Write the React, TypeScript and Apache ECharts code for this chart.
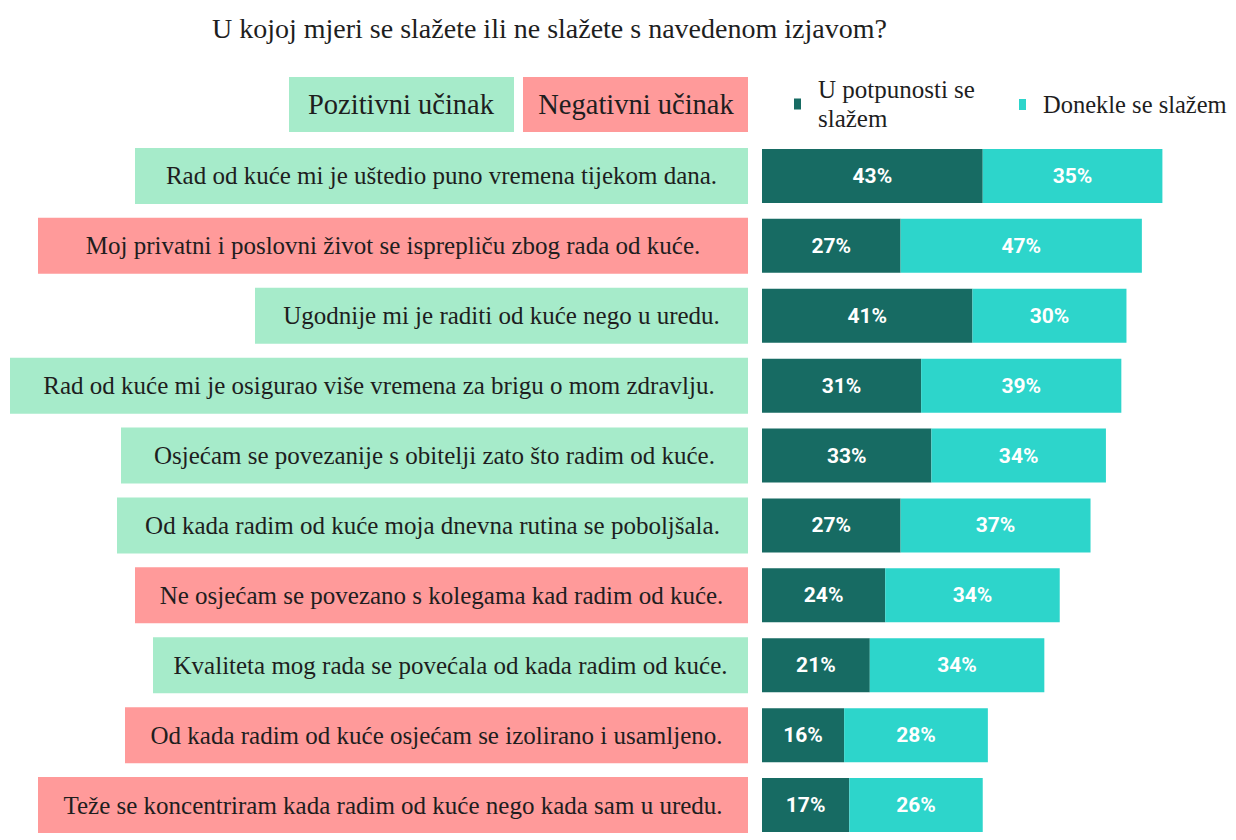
import React, { useEffect, useRef } from "react";
import * as echarts from "echarts";

const titleText = "U kojoj mjeri se slažete ili ne slažete s navedenom izjavom?";

const categories = [
  "Rad od kuće mi je uštedio puno vremena tijekom dana.",
  "Moj privatni i poslovni život se isprepliču zbog rada od kuće.",
  "Ugodnije mi je raditi od kuće nego u uredu.",
  "Rad od kuće mi je osigurao više vremena za brigu o mom zdravlju.",
  "Osjećam se povezanije s obitelji zato što radim od kuće.",
  "Od kada radim od kuće moja dnevna rutina se poboljšala.",
  "Ne osjećam se povezano s kolegama kad radim od kuće.",
  "Kvaliteta mog rada se povećala od kada radim od kuće.",
  "Od kada radim od kuće osjećam se izolirano i usamljeno.",
  "Teže se koncentriram kada radim od kuće nego kada sam u uredu.",
];

const fullyAgree = [43, 27, 41, 31, 33, 27, 24, 21, 16, 17];
const somewhatAgree = [35, 47, 30, 39, 34, 37, 34, 34, 28, 26];
const impactType = ["pos", "neg", "pos", "pos", "pos", "pos", "neg", "pos", "neg", "neg"];

const seriesNames = ["U potpunosti se slažem", "Donekle se slažem"];
const impactLabels = ["Pozitivni učinak", "Negativni učinak"];

// layout (not data)
const labelBoxWidths = [613, 710, 493, 738, 627, 631, 613, 595, 623, 710];
const COLORS = {
  pos: "#A6EBCA",
  neg: "#FF9A9A",
  dark: "#176B63",
  teal: "#2DD5CB",
  text: "#1e1e1e",
};
const SERIF = "'Liberation Serif', 'Times New Roman', serif";
const NARROW = "Roboto, 'Liberation Sans Narrow', sans-serif";

export default function App() {
  const ref = useRef<HTMLDivElement>(null);

  useEffect(() => {
    if (!ref.current) return;
    const chart = echarts.init(ref.current, null, { renderer: "svg" });

    const rich: Record<string, any> = {};
    categories.forEach((_, i) => {
      rich["b" + i] = {
        width: labelBoxWidths[i],
        height: 56,
        lineHeight: 56,
        align: "center",
        backgroundColor: impactType[i] === "pos" ? COLORS.pos : COLORS.neg,
        fontSize: 25,
        fontFamily: SERIF,
        color: COLORS.text,
      };
    });

    const barLabel = {
      show: true,
      position: "inside",
      color: "#ffffff",
      fontWeight: "bold",
      fontSize: 21,
      fontFamily: NARROW,
      formatter: "{c}%",
    };

    chart.setOption({
      animation: false,
      backgroundColor: "#ffffff",
      title: {
        text: titleText,
        left: 207,
        top: 9,
        textStyle: {
          fontFamily: SERIF,
          fontSize: 28,
          fontWeight: "normal",
          color: COLORS.text,
        },
      },
      legend: [
        {
          data: [seriesNames[0]],
          left: 789,
          top: 70,
          icon: "rect",
          itemWidth: 7,
          itemHeight: 11,
          formatter: () => "U potpunosti se\nslažem",
          textStyle: {
            fontFamily: SERIF,
            fontSize: 25,
            lineHeight: 29,
            color: COLORS.text,
            padding: [0, 0, 0, 12],
          },
        },
        {
          data: [seriesNames[1]],
          left: 1014,
          top: 85,
          icon: "rect",
          itemWidth: 7,
          itemHeight: 11,
          textStyle: {
            fontFamily: SERIF,
            fontSize: 24.5,
            lineHeight: 29,
            color: COLORS.text,
            padding: [0, 0, 0, 12],
          },
        },
      ],
      graphic: [
        {
          type: "group",
          children: [
            {
              type: "rect",
              shape: { x: 289, y: 77, width: 225, height: 55 },
              style: { fill: COLORS.pos },
            },
            {
              type: "text",
              x: 401,
              y: 104,
              style: {
                text: impactLabels[0],
                fontFamily: SERIF,
                fontSize: 28.5,
                fill: COLORS.text,
                textAlign: "center",
                textVerticalAlign: "middle",
              },
            },
            {
              type: "rect",
              shape: { x: 523, y: 77, width: 225, height: 55 },
              style: { fill: COLORS.neg },
            },
            {
              type: "text",
              x: 636,
              y: 104,
              style: {
                text: impactLabels[1],
                fontFamily: SERIF,
                fontSize: 28.5,
                fill: COLORS.text,
                textAlign: "center",
                textVerticalAlign: "middle",
              },
            },
          ],
        },
      ],
      grid: { left: 762, top: 141, width: 462, height: 707, containLabel: false },
      xAxis: {
        type: "value",
        min: 0,
        max: 90,
        show: false,
        splitLine: { show: false },
      },
      yAxis: {
        type: "category",
        inverse: true,
        data: categories,
        axisLine: { show: false },
        axisTick: { show: false },
        splitLine: { show: false },
        axisLabel: {
          interval: 0,
          margin: 14,
          formatter: (value: string, index: number) => `{b${index}|${value}}`,
          rich,
        },
      },
      series: [
        {
          name: seriesNames[0],
          type: "bar",
          stack: "total",
          barWidth: 54,
          data: fullyAgree,
          itemStyle: { color: COLORS.dark },
          label: barLabel,
        },
        {
          name: seriesNames[1],
          type: "bar",
          stack: "total",
          barWidth: 54,
          data: somewhatAgree,
          itemStyle: { color: COLORS.teal },
          label: barLabel,
        },
      ],
    });

    return () => chart.dispose();
  }, []);

  return (
    <div
      ref={ref}
      style={{ position: "absolute", left: 0, top: 0, width: 1236, height: 840 }}
    />
  );
}
